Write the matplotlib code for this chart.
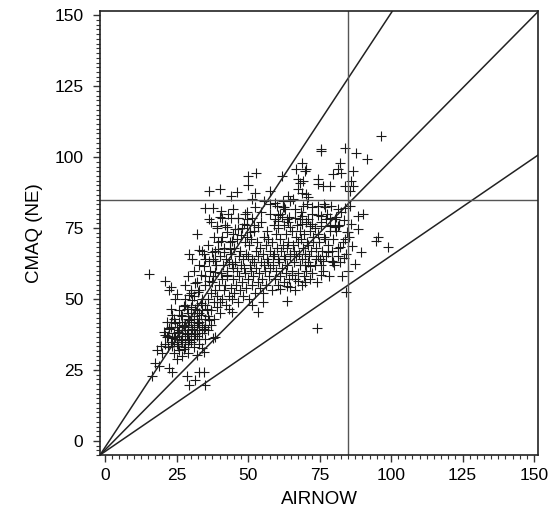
import numpy as np
import matplotlib
matplotlib.use("Agg")
import matplotlib.pyplot as plt
from matplotlib.ticker import MultipleLocator

# AIRNOW (x) vs CMAQ (NE) (y)
airnow = [
    # dense lower-left cluster
    22, 23, 24, 24, 25, 25, 25, 26, 26, 26, 27, 27, 27, 28, 28, 28, 28, 29, 29, 29,
    29, 30, 30, 30, 30, 31, 31, 31, 31, 32, 32, 32, 32, 33, 33, 33, 33, 34, 34, 34,
    35, 35, 35, 36, 36, 36, 27, 29, 31, 33, 35, 37, 37, 38, 38, 26, 28, 24, 23, 22,
    21, 20, 25, 30, 32, 34, 29, 27, 26, 24, 23, 31, 33, 28, 30, 35, 37, 39, 40, 41,
    24.5, 25.5, 26.5, 27.5, 28.5, 29.5, 30.5, 31.5, 32.5, 33.5, 34.5, 25.5, 27.5, 29.5,
    31.5, 33.5, 26.5, 28.5, 30.5, 32.5, 35.5, 36.5, 24.5, 22.5, 23.5, 21.5, 20.5, 19.5,
    27.5, 29.5,
    # middle band
    37.4, 36.6, 37.8, 38.3, 37.9, 38.6, 39.2, 38.7, 39.5, 40.3, 39.8, 40.6, 40.1, 41.4,
    40.8, 41.2, 41.7, 40.9, 42.3, 41.8, 42.5, 42.1, 43.4, 42.7, 43.2, 43.8, 44.3, 43.9,
    44.6, 44.1, 44.8, 45.2, 44.7, 45.5, 45.1, 46.4, 45.8, 46.2, 46.7, 46.1, 47.3, 46.8,
    47.5, 47.1, 47.7, 48.2, 47.9, 48.6, 48.3, 48.8, 49.4, 48.9, 49.2, 49.7, 50.3, 49.8,
    50.6, 50.1, 50.4, 49.6, 51.2, 50.9, 51.5, 51.1, 52.4, 51.8, 52.2, 52.7, 52.1, 53.3,
    52.8, 53.5, 53.1, 54.2, 53.7, 54.6, 54.1, 54.4, 55.3, 54.8, 55.6, 55.1, 55.4, 56.2,
    55.9, 56.5, 56.1, 56.7, 57.3, 56.8, 57.5, 57.1, 57.6, 58.2, 57.8, 58.6, 58.3, 58.9,
    59.4, 58.8, 59.2, 59.7, 60.3, 59.9, 60.6, 60.2, 60.5,
    # right band
    61.3, 60.8, 61.5, 61.2, 62.4, 61.9, 62.6, 62.2, 62.7, 63.3, 62.8, 63.5, 63.1, 64.2,
    63.7, 64.6, 64.1, 64.4, 65.3, 64.8, 65.6, 65.2, 66.4, 65.9, 66.2, 66.7, 67.3, 66.8,
    67.5, 67.1, 68.2, 67.9, 68.6, 68.3, 69.4, 68.8, 69.2, 69.7, 70.3, 69.8, 70.6, 70.2,
    71.3, 70.8, 71.5, 72.4, 71.9, 72.6, 72.2, 73.3, 72.8, 73.5, 74.2, 73.7, 74.6, 75.3,
    74.8, 75.6, 76.2, 75.9, 76.5, 77.3, 76.8, 77.5, 78.2, 77.9, 78.6, 79.3, 78.8, 80.2,
    79.7, 80.6, 81.3, 80.8, 82.2, 81.7, 83.3, 82.8, 84.2, 83.7, 85.3, 84.8,
    60.5, 62.5, 64.5, 66.5, 68.5, 70.5, 72.5, 74.5, 76.5, 78.5, 80.5, 82.5, 84.5, 63.5,
    67.5, 71.5, 75.5, 79.5, 83.5, 86.5, 88.5, 87.5,
    # upper-left band
    28, 29, 31, 33, 34, 35, 36, 38, 39, 37, 40, 42, 43, 35, 32, 30,
    31.5, 33.5, 34.5, 36.5, 37.5, 38.5, 39.5, 40.5, 41.5, 42.5, 43.5, 44.5, 45.5, 46.5,
    47.5, 48.5, 49.5, 50.5, 51.5, 52.5, 53.5, 54.5, 55.5, 36.5, 38.5, 42.5, 44.5,
    # scattered points
    50.1, 52.9, 49.9, 36.2, 40.0, 46.2, 44.1, 52.5, 51.3, 57.7, 35.0, 37.6, 40.6, 44.6,
    36.2, 40.8, 43.9, 46.6, 49.0, 49.5, 39.1, 42.6, 46.6, 51.9, 32.1, 59.4,
    96.5, 75.4, 75.6, 83.8, 87.8, 91.6, 68.7, 66.9, 69.9, 70.4, 82.0, 81.4, 79.7, 82.6,
    86.7, 61.7, 67.5, 69.3, 68.1, 74.5, 74.5, 76.2, 78.6, 86.1, 86.7, 83.8, 85.5,
    67.5, 68.7, 70.4, 71.0, 64.0, 65.8, 64.6, 62.3, 59.4, 57.7, 60.0,
    62.3, 62.9, 66.4, 69.3, 72.2, 74.5, 76.8, 79.1, 81.4, 83.8, 85.5, 88.4, 90.1,
    61.2, 61.7, 63.5, 60.6, 64.0, 68.7, 68.1, 71.0, 68.7, 71.6, 75.6, 77.4, 75.6, 78.5,
    80.3, 81.4, 86.1, 84.9, 95.4,
    94.8, 98.9, 89.6, 83.8, 82.0, 81.4, 79.7, 78.0, 76.2, 75.6, 73.9, 74.5,
    71.0, 69.9, 71.6, 69.9, 68.7, 64.6, 65.2, 66.4, 61.2, 63.5, 84.3, 74.2,
    15.3, 21.1, 22.9, 22.3, 25.2, 24.6, 22.9, 23.4, 21.7, 22.3, 21.1, 23.4,
    53.6, 51.3, 55.3, 43.2, 44.3, 38.5, 29.2, 32.7, 30.4, 34.5,
    18.2, 17.6, 18.8, 16.5, 22.3, 23.4, 32.7, 34.5, 28.7, 31.6, 29.2, 34.8,
    32.1, 33.9, 34.5, 37.9,
]
cmaq = [
    # dense lower-left cluster
    33, 35, 31, 38, 34, 36, 40, 32, 37, 42, 35, 38, 44, 33, 36, 39, 41, 34, 37, 40,
    45, 35, 38, 42, 47, 36, 39, 41, 44, 37, 40, 43, 48, 36, 39, 42, 45, 38, 41, 46,
    40, 43, 48, 39, 44, 50, 30, 31, 33, 34, 36, 41, 46, 43, 49, 46, 48, 43, 40, 37,
    34, 31, 29, 44, 46, 50, 43, 41, 39, 35, 42, 51, 53, 50, 52, 55, 52, 47, 45, 50,
    36.5, 38.5, 35.5, 40.5, 37.5, 42.5, 39.5, 37.5, 41.5, 44.5, 39.5, 33.5, 32.5, 35.5,
    46.5, 48.5, 44.5, 46.5, 49.5, 52.5, 46.5, 42.5, 41.5, 39.5, 33.5, 36.5, 38.5, 33.5,
    47.5, 51.5,
    # middle band
    56, 60, 64, 53, 58, 67, 51, 62, 70, 49, 55, 59, 65, 53, 57, 62, 68, 72, 48, 55,
    60, 64, 51, 58, 63, 70, 50, 54, 61, 66, 73, 52, 57, 63, 68, 49, 55, 60, 65, 71,
    53, 58, 62, 67, 75, 51, 56, 61, 64, 70, 54, 59, 66, 72, 50, 57, 62, 65, 69, 76,
    55, 60, 64, 71, 52, 58, 63, 67, 74, 56, 61, 65, 70, 54, 59, 63, 68, 77, 52, 57,
    62, 66, 72, 55, 60, 64, 69, 74, 58, 63, 67, 71, 80, 53, 61, 65, 70, 76, 57, 62,
    66, 73, 55, 60, 64, 68, 75,
    # right band
    58, 63, 67, 71, 56, 61, 65, 69, 76, 59, 64, 68, 73, 57, 62, 66, 70, 79, 60, 65,
    69, 74, 53, 63, 67, 72, 59, 65, 70, 76, 62, 66, 71, 74, 58, 64, 68, 73, 60, 66,
    70, 77, 65, 69, 74, 59, 67, 72, 80, 62, 70, 75, 56, 68, 73, 64, 70, 77, 60, 67,
    72, 65, 71, 80, 58, 69, 74, 67, 76, 62, 71, 79, 68, 74, 63, 76, 70, 58, 66, 78,
    72, 60,
    79.5, 82.5, 75.5, 78.5, 80.5, 83.5, 76.5, 79.5, 83.5, 78.5, 75.5, 80.5, 73.5, 54.5,
    56.5, 61.5, 58.5, 63.5, 64.5, 68.5, 74.5, 62.5,
    # upper-left band
    55, 58, 60, 62, 67, 64, 69, 72, 75, 77, 79, 76, 80, 58, 56, 53,
    55.5, 58.5, 61.5, 63.5, 66.5, 63.5, 67.5, 70.5, 66.5, 73.5, 67.5, 70.5, 74.5, 78.5,
    72.5, 76.5, 80.5, 73.5, 78.5, 82.5, 75.5, 80.5, 84.5, 56.5, 59.5, 58.5, 62.5,
    # scattered points
    93.3, 94.3, 90.1, 88.1, 88.9, 87.7, 86.3, 87.5, 85.2, 88.1, 81.9, 81.9, 81.1, 81.7,
    78.2, 78.6, 78.6, 78.6, 79.9, 78.2, 75.8, 75.3, 74.7, 76.1, 72.9, 78.2,
    107.6, 102.9, 102.1, 103.3, 101.5, 99.4, 98.0, 95.7, 95.1, 95.7, 98.0, 95.7, 93.9, 94.5,
    95.1, 93.3, 92.2, 91.6, 91.0, 92.2, 90.4, 89.8, 89.8, 91.6, 89.8, 89.8, 88.1,
    88.7, 87.5, 86.9, 85.8, 86.3, 85.2, 84.6, 84.6, 84.0, 83.4, 82.8,
    82.3, 81.7, 81.7, 82.8, 82.3, 82.8, 82.3, 82.6, 81.7, 81.9, 82.6, 79.3, 79.9,
    79.9, 78.8, 78.2, 77.6, 77.0, 79.3, 78.2, 78.2, 76.4, 75.8, 79.3, 78.2, 75.8, 75.8,
    78.2, 75.8, 76.4, 73.5, 71.7,
    70.6, 68.2, 66.7, 71.2, 68.2, 65.3, 63.0, 66.5, 63.5, 61.8, 64.1, 65.3,
    63.0, 61.8, 57.1, 56.0, 54.8, 54.2, 58.3, 57.1, 53.6, 49.2, 52.5, 39.6,
    58.9, 56.5, 54.2, 53.0, 51.9, 50.1, 46.6, 44.3, 42.0, 39.6, 37.3, 36.1,
    45.5, 47.8, 49.0, 46.6, 45.5, 36.7, 65.9, 67.1, 64.1, 65.9,
    32.0, 27.3, 26.2, 22.7, 25.6, 24.4, 24.4, 24.4, 22.7, 21.5, 19.7, 19.7,
    30.3, 32.6, 31.4, 36.1,
]

# reference lines drawn from the lower-left corner of the plot
ref_slopes = [1.53, 1.02, 0.69]
threshold = 85

xlo, xhi = -1.8, 151.4
ylo, yhi = -5.0, 151.5

plt.rcParams["font.family"] = ["Liberation Sans", "DejaVu Sans"]

fig = plt.figure(figsize=(5.5, 5.19), dpi=100)
ax = fig.add_axes([0.1818, 0.1233, 0.7964, 0.8555])

ax.plot(airnow, cmaq, linestyle="none", marker="+", markersize=7,
        markeredgewidth=0.8, color="#1a1a1a")

xs = np.array([xlo, xhi])
for k in ref_slopes:
    ax.plot(xs, ylo + k * (xs - xlo), color="#222222", lw=1.1)

ax.axhline(threshold, color="#555555", lw=1.0)
ax.axvline(threshold, color="#555555", lw=1.0)

ax.set_xlim(xlo, xhi)
ax.set_ylim(ylo, yhi)

ax.xaxis.set_major_locator(MultipleLocator(25))
ax.yaxis.set_major_locator(MultipleLocator(25))
ax.xaxis.set_minor_locator(MultipleLocator(2.5))
ax.yaxis.set_minor_locator(MultipleLocator(25 / 15))
ax.tick_params(which="major", direction="out", length=5, width=1, labelsize=12.5,
               color="#333333")
ax.tick_params(which="minor", direction="out", length=3, width=0.8, color="#333333")
ax.tick_params(axis="y", pad=7)
ax.tick_params(axis="x", pad=4)

for s in ax.spines.values():
    s.set_linewidth(1.2)
    s.set_color("#222222")

ax.set_xlabel("AIRNOW", fontsize=13.5, labelpad=6)
ax.set_ylabel("CMAQ (NE)", fontsize=13.5, labelpad=8)

fig.savefig("out.png", dpi=100)
